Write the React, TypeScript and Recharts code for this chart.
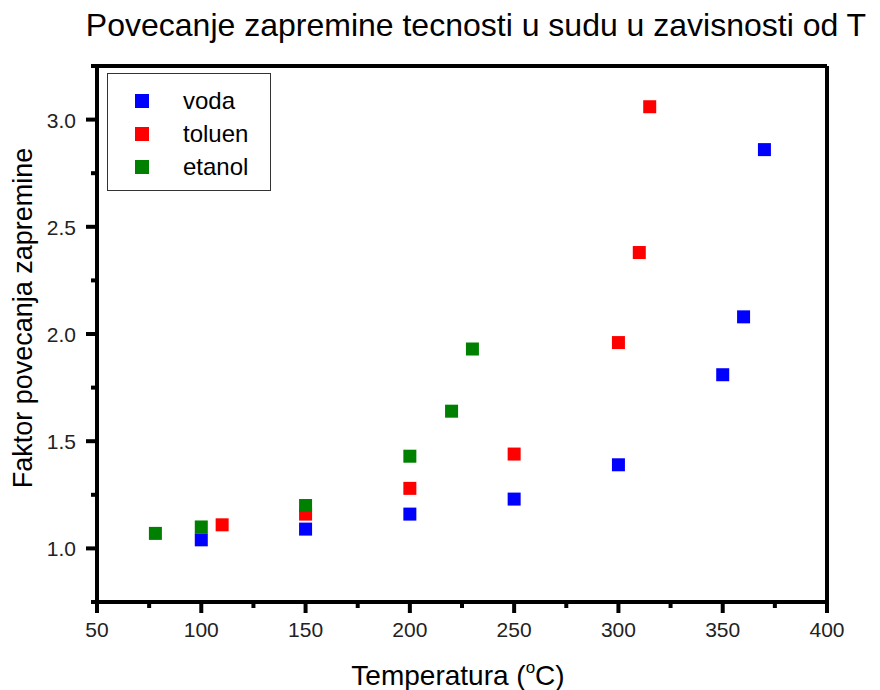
import { ScatterChart, Scatter, XAxis, YAxis, ReferenceLine, Legend } from "recharts";

const vodaT = [100, 150, 200, 250, 300, 350, 360, 370];
const vodaF = [1.04, 1.09, 1.16, 1.23, 1.39, 1.81, 2.08, 2.86];
const toluenT = [110, 150, 200, 250, 300, 310, 315];
const toluenF = [1.11, 1.16, 1.28, 1.44, 1.96, 2.38, 3.06];
const etanolT = [78, 100, 150, 200, 220, 230];
const etanolF = [1.07, 1.1, 1.2, 1.43, 1.64, 1.93];

const xTicks = [50, 75, 100, 125, 150, 175, 200, 225, 250, 275, 300, 325, 350, 375, 400];
const yTicks = [0.75, 1.0, 1.25, 1.5, 1.75, 2.0, 2.25, 2.5, 2.75, 3.0, 3.25];

const FONT = "Arial, 'Liberation Sans', sans-serif";

const zip = (xs: number[], ys: number[]) => xs.map((t, i) => ({ t, f: ys[i] }));

const series = [
  { name: "voda", color: "#0000ff", data: zip(vodaT, vodaF) },
  { name: "toluen", color: "#ff0000", data: zip(toluenT, toluenF) },
  { name: "etanol", color: "#008000", data: zip(etanolT, etanolF) },
];

function XTick({ x, y, payload }: any) {
  const major = payload.value % 50 === 0;
  return (
    <g>
      <line x1={x} y1={y} x2={x} y2={y + (major ? 11 : 6)} stroke="#000" strokeWidth={4} />
      {major && (
        <text x={x} y={y + 35} textAnchor="middle" fontSize={21} fill="#222" fontFamily={FONT}>
          {payload.value}
        </text>
      )}
    </g>
  );
}

function YTick({ x, y, payload }: any) {
  const major = Math.abs(payload.value * 2 - Math.round(payload.value * 2)) < 1e-6;
  return (
    <g>
      <line x1={x} y1={y} x2={x - (major ? 11 : 6)} y2={y} stroke="#000" strokeWidth={4} />
      {major && (
        <text x={x - 21} y={y + 8} textAnchor="end" fontSize={21} fill="#222" fontFamily={FONT}>
          {payload.value.toFixed(1)}
        </text>
      )}
    </g>
  );
}

function SquareDot({ cx, cy, fill }: any) {
  return <rect x={cx - 6.5} y={cy - 6.5} width={13} height={13} fill={fill} />;
}

function LegendBox() {
  return (
    <div
      style={{
        border: "1px solid #333",
        background: "#fff",
        width: 164,
        height: 118,
        boxSizing: "border-box",
        paddingTop: 10,
        fontFamily: FONT,
      }}
    >
      {series.map((s) => (
        <div key={s.name} style={{ display: "flex", alignItems: "center", height: 33 }}>
          <div style={{ width: 14, height: 14, background: s.color, marginLeft: 27, marginRight: 34 }} />
          <span style={{ fontSize: 24, color: "#000" }}>{s.name}</span>
        </div>
      ))}
    </div>
  );
}

export default function App() {
  return (
    <div style={{ position: "absolute", left: 0, top: 0, width: 880, height: 690, background: "#fff" }}>
      <ScatterChart width={880} height={690} margin={{ top: 66, right: 53, bottom: 58, left: 37 }}>
        <text x={476} y={36} textAnchor="middle" fontSize={32} fontFamily={FONT} fill="#000">
          Povecanje zapremine tecnosti u sudu u zavisnosti od T
        </text>
        <text
          x={0}
          y={0}
          transform="translate(32,318) rotate(-90)"
          textAnchor="middle"
          fontSize={27}
          fontFamily={FONT}
          fill="#000"
        >
          Faktor povecanja zapremine
        </text>
        <text x={458} y={685} textAnchor="middle" fontSize={28} fontFamily={FONT} fill="#000">
          Temperatura (
          <tspan fontSize={17} dy={-12}>o</tspan>
          <tspan dy={12}>C)</tspan>
        </text>
        <XAxis
          type="number"
          dataKey="t"
          domain={[50, 400]}
          ticks={xTicks}
          interval={0}
          height={30}
          tickSize={0}
          tickMargin={0}
          tickLine={false}
          axisLine={{ stroke: "#000", strokeWidth: 4 }}
          tick={<XTick />}
          allowDataOverflow
        />
        <YAxis
          type="number"
          dataKey="f"
          domain={[0.75, 3.25]}
          ticks={yTicks}
          interval={0}
          width={60}
          tickSize={0}
          tickMargin={0}
          tickLine={false}
          axisLine={{ stroke: "#000", strokeWidth: 4 }}
          tick={<YTick />}
          allowDataOverflow
        />
        <ReferenceLine y={3.25} stroke="#000" strokeWidth={4} ifOverflow="visible" />
        <ReferenceLine x={400} stroke="#000" strokeWidth={4} ifOverflow="visible" />
        <Legend
          layout="vertical"
          align="center"
          verticalAlign="middle"
          wrapperStyle={{ left: 107, top: 73, width: 164, height: 118 }}
          content={() => <LegendBox />}
        />
        {series.map((s) => (
          <Scatter
            key={s.name}
            name={s.name}
            data={s.data}
            fill={s.color}
            shape={<SquareDot />}
            isAnimationActive={false}
          />
        ))}
      </ScatterChart>
    </div>
  );
}
